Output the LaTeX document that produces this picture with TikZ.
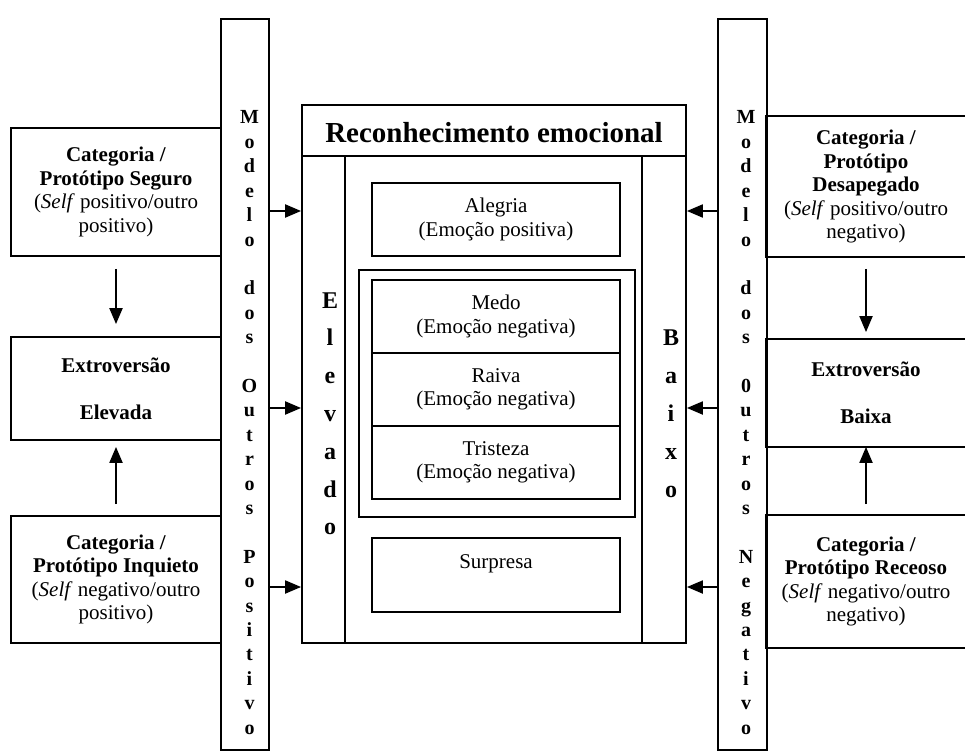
\documentclass[tikz,border=0pt]{standalone}
\usepackage{fontspec}
\setmainfont{Liberation Serif}
\usetikzlibrary{arrows.meta}
\begin{document}
\begin{tikzpicture}[x=1pt,y=-1pt,
  bx/.style={draw, line width=1.8pt, inner sep=0pt, align=center, font=\fontsize{21}{23.5}\selectfont},
  nobx/.style={bx, draw=none},
  vlet/.style={font=\fontsize{20}{24}\selectfont\bfseries, inner sep=0pt, anchor=base},
  blet/.style={font=\fontsize{24}{38}\selectfont\bfseries, inner sep=0pt, anchor=base},
  arr/.style={line width=2pt, -{Triangle[length=16pt,width=13pt]}},
  border/.style={line width=1.8pt},
]
\useasboundingbox (0,0) rectangle (965,754);

% side bars
\node[bx, minimum width=48pt, minimum height=731pt] (lbar) at (245,384.5) {};
\node[bx, minimum width=49pt, minimum height=731pt] (rbar) at (742.5,384.5) {};

% left boxes
\node[bx, minimum width=210pt, minimum height=128pt] (lb1) at (116,192)
  {\textbf{Categoria /}\\\textbf{Protótipo Seguro}\\(\textit{Self} positivo/outro\\positivo)};
\node[bx, minimum width=210pt, minimum height=103pt] (lb2) at (116,388.5)
  {\textbf{Extroversão}\\[23.5pt]\textbf{Elevada}};
\node[bx, minimum width=210pt, minimum height=127pt] (lb3) at (116,579.5)
  {\textbf{Categoria /}\\\textbf{Protótipo Inquieto}\\(\textit{Self} negativo/outro\\positivo)};

% right boxes (open to the right edge)
\node[nobx, minimum width=198pt, minimum height=139pt] (rb1) at (866,186.5)
  {\textbf{Categoria /}\\\textbf{Protótipo}\\\textbf{Desapegado}\\(\textit{Self} positivo/outro\\negativo)};
\node[nobx, minimum width=198pt, minimum height=106pt] (rb2) at (866,393)
  {\textbf{Extroversão}\\[23.5pt]\textbf{Baixa}};
\node[nobx, minimum width=198pt, minimum height=131pt] (rb3) at (866,581.5)
  {\textbf{Categoria /}\\\textbf{Protótipo Receoso}\\(\textit{Self} negativo/outro\\negativo)};
\foreach \n in {rb1,rb2,rb3}
  \draw[border] (\n.north east) -- (\n.north west) -- (\n.south west) -- (\n.south east);

% central block
\node[bx, minimum width=384pt, minimum height=538pt] (cbox) at (494,374) {};
\node[bx, minimum width=384pt, minimum height=51pt, text height=25pt, text depth=0pt,
      font=\fontsize{29}{34}\selectfont\bfseries] (ctitle) at (494,130.5) {Reconhecimento emocional};
\node[bx, minimum width=43pt, minimum height=487pt] (colE) at (323.5,399.5) {};
\node[bx, minimum width=44pt, minimum height=487pt] (colB) at (664,399.5) {};

\node[bx, minimum width=248pt, minimum height=73pt] (aleg) at (496,219.5) {Alegria\\(Emoção positiva)};
\node[bx, line width=1.5pt, minimum width=276pt, minimum height=247pt] (grp) at (497,393.5) {};
\node[bx, minimum width=248pt, minimum height=73pt] (medo) at (496,316.5) {Medo\\(Emoção negativa)};
\node[bx, minimum width=248pt, minimum height=73pt] (raiva) at (496,389.5) {Raiva\\(Emoção negativa)};
\node[bx, minimum width=248pt, minimum height=73pt] (trist) at (496,462.5) {Tristeza\\(Emoção negativa)};
\node[bx, minimum width=248pt, minimum height=74pt, text height=5pt, text depth=19pt] (surp) at (496,575) {Surpresa};

% vertical letters
\foreach \i/\c in {0/M,1/o,2/d,3/e,4/l,5/o,7/d,8/o,9/s,11/O,12/u,13/t,14/r,15/o,16/s,18/P,19/o,20/s,21/i,22/t,23/i,24/v,25/o}
  \node[vlet] (lp\i) at (249.5,{124+\i*24.4}) {\c};
\foreach \i/\c in {0/M,1/o,2/d,3/e,4/l,5/o,7/d,8/o,9/s,11/0,12/u,13/t,14/r,15/o,16/s,18/N,19/e,20/g,21/a,22/t,23/i,24/v,25/o}
  \node[vlet] (rn\i) at (746,{124+\i*24.4}) {\c};
\foreach \i/\c in {0/E,1/l,2/e,3/v,4/a,5/d,6/o}
  \node[blet] (el\i) at (330,{308+\i*37.8}) {\c};
\foreach \i/\c in {0/B,1/a,2/i,3/x,4/o}
  \node[blet] (bx\i) at (671,{345+\i*38}) {\c};

% horizontal arrows
\coordinate (h1) at (0,211);
\coordinate (h2) at (0,408);
\coordinate (h3) at (0,587);
\foreach \h in {h1,h2,h3} {
  \draw[arr] (lbar.east |- \h) -- (cbox.west |- \h);
  \draw[arr] (rbar.west |- \h) -- (cbox.east |- \h);
}

% vertical arrows
\draw[arr, shorten <=12pt, shorten >=12pt] (lb1.south) -- (lb2.north);
\draw[arr, shorten <=11pt, shorten >=6pt] (lb3.north) -- (lb2.south);
\draw[arr, shorten <=12pt, shorten >=7pt] (rb1.south) -- (rb2.north);
\draw[arr, shorten <=11pt, shorten >=0pt] (rb3.north) -- (rb2.south);
\end{tikzpicture}
\end{document}
